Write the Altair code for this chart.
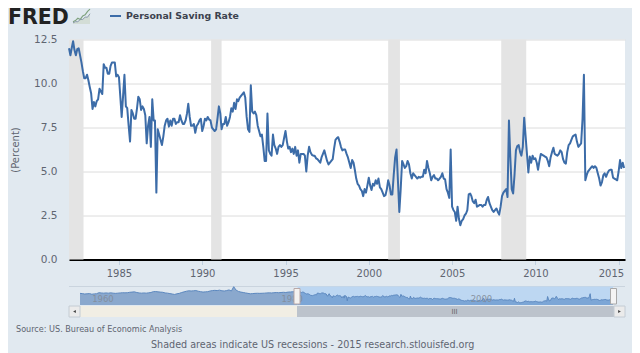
import altair as alt
import pandas as pd

BG = "#e1e9f0"
LINE = "#3c6ca8"
TXT = "#5f6570"

# Monthly personal saving rate, Jan 1982 - May 2015
y1982 = [12.0, 11.6, 12.0, 12.4, 11.9, 11.6, 11.95, 12.0, 11.6, 11.2, 10.7, 10.3]
y1983 = [10.3, 10.5, 10.2, 9.8, 9.45, 8.55, 8.95, 8.7, 9.0, 9.1, 9.7, 9.55]
y1984 = [9.4, 11.1, 10.9, 10.9, 10.55, 10.55, 11.0, 11.2, 11.2, 11.2, 10.4, 10.5]
y1985 = [10.35, 9.2, 8.1, 9.3, 10.5, 8.7, 8.6, 7.6, 6.7, 8.5, 8.3, 8.0]
y1986 = [8.0, 8.6, 9.25, 9.1, 8.5, 8.7, 8.55, 8.2, 6.6, 7.6, 8.1, 6.4]
y1987 = [9.1, 7.9, 7.9, 3.8, 7.4, 7.1, 6.8, 6.5, 7.0, 7.6, 7.9, 8.0]
y1988 = [7.55, 7.9, 7.6, 8.0, 8.0, 7.7, 7.8, 7.8, 8.2, 7.9, 7.7, 7.7]
y1989 = [7.9, 8.3, 8.85, 8.1, 7.6, 7.6, 7.7, 7.2, 7.6, 7.7, 7.9, 8.0]
y1990 = [7.3, 7.6, 8.0, 7.9, 8.1, 7.95, 7.9, 7.5, 7.4, 7.3, 7.4, 8.0]
y1991 = [8.7, 8.3, 7.4, 7.7, 7.7, 8.1, 7.6, 7.8, 8.1, 8.6, 8.4, 8.9]
y1992 = [8.55, 9.1, 9.0, 9.2, 9.3, 9.4, 9.5, 9.2, 8.1, 7.4, 7.25, 9.9]
y1993 = [8.4, 8.3, 8.4, 8.2, 7.6, 7.3, 7.0, 7.1, 6.4, 5.6, 5.6, 8.3]
y1994 = [6.2, 6.0, 5.9, 7.1, 6.5, 6.3, 6.0, 6.4, 6.5, 6.4, 6.5, 6.9]
y1995 = [7.3, 6.7, 6.3, 6.4, 6.1, 6.3, 6.0, 6.4, 5.9, 6.2, 5.5, 6.0]
y1996 = [6.0, 6.0, 5.9, 5.0, 5.9, 6.4, 6.1, 5.95, 5.9, 5.9, 5.75, 5.7]
y1997 = [5.6, 5.5, 5.8, 6.0, 6.2, 5.9, 5.6, 5.4, 5.5, 5.6, 5.7, 6.3]
y1998 = [6.8, 6.9, 6.95, 6.7, 6.4, 6.2, 6.25, 6.25, 6.0, 5.8, 5.5, 5.2]
y1999 = [5.65, 5.5, 5.1, 4.6, 4.3, 4.2, 4.0, 3.9, 3.6, 4.0, 3.8, 4.2]
y2000 = [4.65, 4.2, 3.95, 4.3, 4.2, 4.5, 4.3, 4.6, 4.1, 4.0, 3.8, 3.6]
y2001 = [3.65, 4.0, 4.5, 4.2, 3.7, 3.7, 4.8, 5.8, 6.25, 4.5, 2.7, 4.0]
y2002 = [5.6, 5.4, 5.2, 5.3, 5.6, 5.4, 4.9, 4.6, 4.9, 4.8, 4.7, 4.6]
y2003 = [4.7, 4.65, 4.7, 4.7, 5.1, 4.9, 5.6, 5.2, 4.9, 4.5, 4.7, 4.8]
y2004 = [4.6, 4.6, 4.5, 4.6, 4.7, 4.9, 4.6, 4.55, 4.0, 3.8, 3.5, 6.25]
y2005 = [3.0, 2.8, 2.7, 2.2, 3.0, 2.3, 1.95, 2.2, 2.3, 2.5, 2.6, 2.8]
y2006 = [3.7, 3.75, 3.6, 3.3, 3.2, 3.4, 3.0, 3.05, 3.1, 3.1, 3.0, 3.1]
y2007 = [3.1, 3.4, 3.55, 3.2, 3.0, 2.8, 2.7, 2.8, 2.9, 2.7, 2.55, 3.0]
y2008 = [3.6, 3.8, 3.9, 4.0, 3.55, 7.9, 5.8, 4.0, 3.75, 4.8, 6.2, 6.45]
y2009 = [6.5, 6.1, 5.9, 6.4, 8.05, 7.0, 6.0, 4.95, 5.85, 5.5, 5.9, 5.7]
y2010 = [5.75, 5.5, 5.1, 5.6, 6.0, 5.95, 5.9, 5.85, 5.8, 5.6, 5.3, 5.8]
y2011 = [6.1, 6.35, 6.0, 5.95, 5.9, 6.0, 6.2, 6.1, 5.7, 5.5, 5.45, 6.1]
y2012 = [6.5, 6.6, 6.8, 7.0, 7.05, 7.1, 6.7, 6.4, 6.5, 6.6, 8.0, 10.5]
y2013 = [4.5, 4.8, 5.0, 5.1, 5.2, 5.3, 5.2, 5.3, 5.2, 4.9, 4.6, 4.2]
y2014 = [4.4, 4.8, 4.9, 4.7, 4.9, 5.05, 5.1, 5.1, 4.65, 4.6, 4.55, 4.5]
y2015 = [5.0, 5.65, 5.2, 5.5, 5.2]

saving = (y1982 + y1983 + y1984 + y1985 + y1986 + y1987 + y1988 + y1989 + y1990
          + y1991 + y1992 + y1993 + y1994 + y1995 + y1996 + y1997 + y1998 + y1999
          + y2000 + y2001 + y2002 + y2003 + y2004 + y2005 + y2006 + y2007 + y2008
          + y2009 + y2010 + y2011 + y2012 + y2013 + y2014 + y2015)

# Quarterly values for the navigator's earlier range, 1959-1981
nav_early = [10.8, 10.6, 10.2, 10.4, 10.6, 10.0, 10.3, 10.5, 11.4, 11.2, 11.0, 11.2,
             11.0, 11.3, 11.0, 10.8, 11.0, 11.2, 11.4, 11.3, 11.4, 11.8, 12.0, 12.2,
             11.6, 11.2, 11.0, 11.2, 11.0, 11.3, 11.6, 12.4, 12.5, 12.2, 12.0, 11.8,
             11.2, 11.0, 10.6, 10.2, 9.8, 10.4, 10.8, 11.6, 12.2, 12.8, 13.2, 13.0,
             13.2, 13.4, 12.8, 12.4, 12.0, 12.2, 12.4, 13.0, 13.4, 13.6, 13.4, 13.8,
             13.2, 13.0, 13.4, 14.0, 13.0, 17.0, 13.8, 12.6, 12.0, 11.6, 11.2, 10.8,
             10.4, 10.6, 10.8, 10.9, 10.8, 10.9, 11.0, 11.2, 11.3, 11.2, 11.4, 11.6,
             11.4, 11.6, 11.8, 11.6, 12.0, 12.1, 12.3, 12.2]

rec_start = ["1982-01-01", "1990-07-15", "2001-03-01", "2007-12-15"]
rec_end = ["1982-11-15", "1991-03-01", "2001-11-15", "2009-06-15"]

year_ticks = [1985, 1990, 1995, 2000, 2005, 2010, 2015]
nav_labels = [1960, 1980, 2000]
y_ticks = [0, 2.5, 5, 7.5, 10, 12.5]

W, H = 556, 220
main = pd.DataFrame({"date": pd.date_range("1982-01-01", periods=len(saving), freq="MS"), "value": saving})
early = pd.DataFrame({"date": pd.date_range("1959-01-01", periods=len(nav_early), freq="QS"), "value": nav_early})
early_join = pd.concat([early, main.iloc[:1]])
full = pd.concat([early, main])
rec = pd.DataFrame({"s": pd.to_datetime(rec_start), "e": pd.to_datetime(rec_end)})

dt = lambda y, m=1, d=1: alt.DateTime(year=y, month=m, date=d)
mx = alt.Scale(domain=[dt(1982), dt(2015, 5, 21)], range=[0, W])
my = alt.Scale(domain=[0, 12.5], range=[H, 0], nice=False)
# navigator sits below the plot, measured from the plot's own origin
nx = alt.Scale(domain=[dt(1959), dt(2015, 5, 1)], range=[11, 544])
ny = alt.Scale(domain=[0, 17], range=[265.5, 247.2], nice=False)
one = pd.DataFrame({"a": [0]})


def box(x0, x1, y0, y1, color, stroke=None):
    kw = {"stroke": stroke, "strokeWidth": 1} if stroke else {}
    return alt.Chart(one).mark_rect(color=color, **kw).encode(
        x=alt.value(x0), x2=alt.value(x1), y=alt.value(y0), y2=alt.value(y1))


def label(text, x, y, **kw):
    return alt.Chart(pd.DataFrame({"t": [text]})).mark_text(**kw).encode(
        x=alt.value(x), y=alt.value(y), text="t:N")


bands = alt.Chart(rec).mark_rect(color="#e4e4e4").encode(
    x=alt.X("s:T", scale=mx, axis=None), x2="e:T", y=alt.value(0), y2=alt.value(H))

series = alt.Chart(main).mark_line(color=LINE, strokeWidth=2, strokeJoin="round").encode(
    x=alt.X("date:T", scale=mx, title=None, axis=alt.Axis(
        values=[dt(y) for y in year_ticks], format="%Y", grid=False,
        domainColor="#000000", domainWidth=2, tickColor="#c0d0e0", tickSize=5,
        labelColor=TXT, labelFont="DejaVu Sans", labelFontSize=10, labelPadding=4,
        labelFlush=10, labelFlushOffset=5, labelOverlap=False)),
    y=alt.Y("value:Q", scale=my, axis=alt.Axis(
        values=y_ticks, format=".1f", title="(Percent)", grid=True, gridColor="#dcdcdc",
        domain=False, ticks=False, labelColor=TXT, labelFont="DejaVu Sans",
        labelFontSize=10.5, labelPadding=12, titleFont="DejaVu Sans", titleFontSize=10,
        titleFontWeight="normal", titleColor=TXT, titleX=-49, titleY=110)))

# navigator
nav_rule = box(0, W, 246.5, 247, "#b4c0cc")
nav_sel = alt.Chart(pd.DataFrame({"s": [pd.Timestamp("1982-01-01")], "e": [pd.Timestamp("2015-05-01")]})).mark_rect(color="#bdd7f2").encode(
    x=alt.X("s:T", scale=nx, axis=None), x2="e:T", y=alt.value(247), y2=alt.value(265.5))
area_out = alt.Chart(early_join).mark_area(color="#8aa8cd", opacity=1).encode(
    x=alt.X("date:T", scale=nx, axis=None), y=alt.Y("value:Q", scale=ny, axis=None))
area_in = alt.Chart(main).mark_area(color="#7ca6d6", opacity=1).encode(
    x=alt.X("date:T", scale=nx, axis=None), y=alt.Y("value:Q", scale=ny, axis=None))
nav_line = alt.Chart(full).mark_line(color="#5c88bf", strokeWidth=1).encode(
    x=alt.X("date:T", scale=nx, axis=None), y=alt.Y("value:Q", scale=ny, axis=None))
nav_years = alt.Chart(pd.DataFrame({"d": pd.to_datetime([f"{y}-01-01" for y in nav_labels]), "t": [str(y) for y in nav_labels]})).mark_text(
    color="#838d9a", font="DejaVu Sans", fontSize=8.5, dx=13.5, opacity=0.9).encode(
    x=alt.X("d:T", scale=nx, axis=None), y=alt.value(259.5), text="t:N")

track = box(11, 228, 266.5, 277.5, "#f1eee4")
thumb = box(228, 545, 266.5, 277.5, "#bcc3cc")
btn_l = box(0, 11, 266.5, 277.5, "#ebebeb", "#c4ccd4")
btn_r = box(545, 556, 266.5, 277.5, "#ebebeb", "#c4ccd4")
h_l = box(225, 231, 249, 264.5, "#f4f2f0", "#b8a8a8")
h_r = box(541.5, 547.5, 249, 264.5, "#f4f4f4", "#a8a8a8")
arrows = [
    alt.Chart(one).mark_point(shape="triangle-left", filled=True, color="#444", size=10, opacity=1).encode(
        x=alt.value(5.5), y=alt.value(272)),
    alt.Chart(one).mark_point(shape="triangle-right", filled=True, color="#444", size=10, opacity=1).encode(
        x=alt.value(550.5), y=alt.value(272)),
]
grip = label("III", 385.5, 272, font="DejaVu Sans", fontSize=7, color="#666")

# header and footer
logo = label("FRED", -61, -15.2, font="DejaVu Sans", fontSize=20.5, fontWeight="bold", color="#222222", align="left", baseline="alphabetic")
icon_a = [2, 3, 5, 4, 7, 8, 11, 13]
icon_b = [1, 2, 2, 4, 4, 6, 6, 9]
ic = pd.DataFrame({"i": list(range(8)), "a": icon_a, "b": icon_b})
icx = alt.Scale(domain=[0, 7], range=[4, 21])
icy = alt.Scale(domain=[0, 14], range=[-15.5, -31.5], nice=False)
icon_bg = alt.Chart(ic).mark_area(color="#cfd9cf", opacity=0.8).encode(
    x=alt.X("i:Q", scale=icx, axis=None), y=alt.Y("b:Q", scale=icy, axis=None))
icon1 = alt.Chart(ic).mark_line(color="#7fa27f", strokeWidth=1.2).encode(
    x=alt.X("i:Q", scale=icx, axis=None), y=alt.Y("a:Q", scale=icy, axis=None))
icon2 = alt.Chart(ic).mark_line(color="#8a9aaa", strokeWidth=1).encode(
    x=alt.X("i:Q", scale=icx, axis=None), y=alt.Y("b:Q", scale=icy, axis=None))
key = box(41, 52, -24.5, -22.5, LINE)
title = label("Personal Saving Rate", 57, -23.5, font="DejaVu Sans", fontSize=9.4, fontWeight="bold", color="#3c424e", align="left", baseline="middle")
source = label("Source: US. Bureau of Economic Analysis", -53, 290.5, font="DejaVu Sans", fontSize=8.1, color=TXT, align="left", baseline="middle")
shaded = label("Shaded areas indicate US recessions - 2015 research.stlouisfed.org", 82, 305.5, font="DejaVu Sans", fontSize=9.6, color=TXT, align="left", baseline="middle")

chart = alt.layer(
    bands, series, nav_rule, nav_sel, area_out, area_in, nav_line, nav_years,
    track, thumb, btn_l, btn_r, h_l, h_r, *arrows, grip,
    logo, icon_bg, icon1, icon2, key, title, source, shaded,
).resolve_scale(x="independent", y="independent").properties(
    width=W, height=H, background=BG,
    padding={"left": 61, "top": 31.5, "right": 7, "bottom": 93.5},
    autosize=alt.AutoSizeParams(type="none"),
).configure_view(fill="white", strokeWidth=0)

chart.save("out.html", embed_options={"renderer": "svg", "actions": False})
